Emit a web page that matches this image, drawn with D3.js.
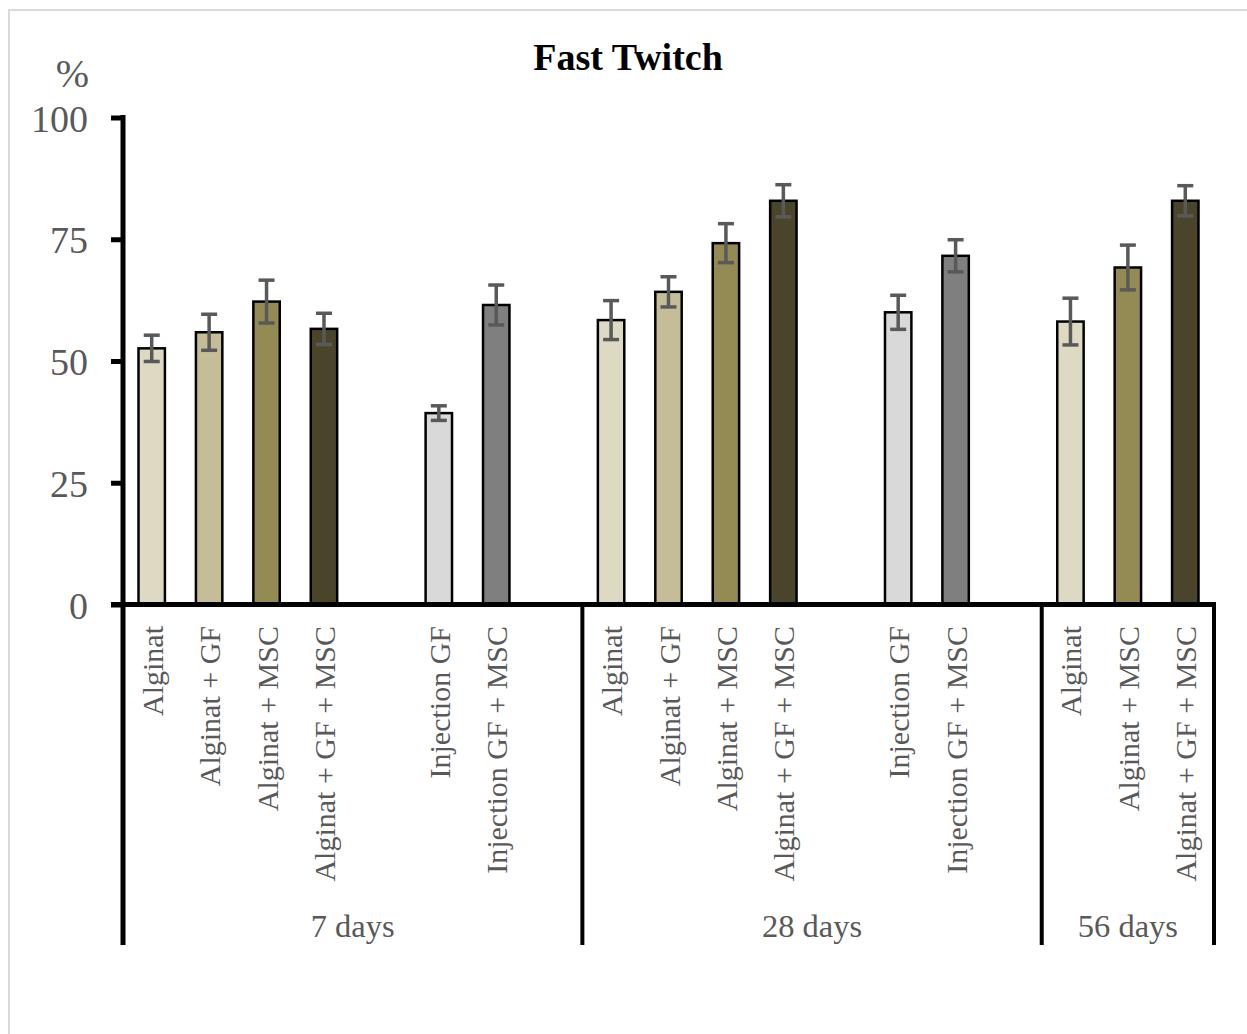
<!DOCTYPE html>
<html>
<head>
<meta charset="utf-8">
<script src="https://cdn.jsdelivr.net/npm/d3@7"></script>
<style>
  html, body { margin: 0; padding: 0; background: #fff; }
  svg { display: block; }
  text { font-family: "Liberation Serif", "Times New Roman", serif; }
</style>
</head>
<body>
<svg id="chart" width="1247" height="1034"></svg>
<script>
// ---- data ----
const groups = ["7 days", "28 days", "56 days"];
const groupSizes = [8, 8, 3];
const categories = [
  "Alginat", "Alginat + GF", "Alginat + MSC", "Alginat + GF + MSC", "", "Injection GF", "Injection GF + MSC", "",
  "Alginat", "Alginat + GF", "Alginat + MSC", "Alginat + GF + MSC", "", "Injection GF", "Injection GF + MSC", "",
  "Alginat", "Alginat + MSC", "Alginat + GF + MSC"
];
const values = [
  52.6, 55.9, 62.2, 56.6, null, 39.3, 61.5, null,
  58.4, 64.2, 74.2, 82.9, null, 60.0, 71.6, null,
  58.1, 69.2, 82.9
];
const errors = [
  2.7, 3.7, 4.4, 3.2, null, 1.5, 4.1, null,
  4.0, 3.1, 4.0, 3.3, null, 3.5, 3.3, null,
  4.8, 4.6, 3.1
];
const yTicks = [0, 25, 50, 75, 100];
const colorByCategory = {
  "Alginat": "#ddd9c3",
  "Alginat + GF": "#c4bd97",
  "Alginat + MSC": "#948a54",
  "Alginat + GF + MSC": "#4a452a",
  "Injection GF": "#d9d9d9",
  "Injection GF + MSC": "#7f7f7f"
};

// ---- layout ----
const svg = d3.select("#chart");
const left = 123, right = 1214, y0 = 604.5, y100 = 117.5, bottom = 945;

// frame
svg.append("rect").attr("x", 9).attr("y", 10).attr("width", 1260).attr("height", 1060)
  .attr("fill", "none").attr("stroke", "#d9d9d9").attr("stroke-width", 2);

const x = d3.scaleBand().domain(d3.range(categories.length)).range([left, right]).padding(0);
const y = d3.scaleLinear().domain([0, 100]).range([y0, y100]);
const barW = x.bandwidth() * 0.46;

// title
svg.append("text").attr("x", 628).attr("y", 70).attr("text-anchor", "middle")
  .attr("font-size", 38).attr("font-weight", "bold").attr("fill", "#000").text("Fast Twitch");

// % label
svg.append("text").attr("x", 89).attr("y", 86.5).attr("text-anchor", "end")
  .attr("font-size", 40).attr("fill", "#595959").text("%");

// y axis
const yAxis = d3.axisLeft(y).tickValues(yTicks).tickSize(12).tickPadding(23).tickFormat(d3.format("d"));
const ya = svg.append("g").attr("transform", `translate(${left},0)`).call(yAxis);
ya.select(".domain").remove();
ya.selectAll(".tick line").attr("stroke", "#000").attr("stroke-width", 5);
ya.selectAll(".tick text").attr("font-size", 38).attr("fill", "#595959")
  .attr("font-family", "Liberation Serif, serif").attr("dy", "0.36em");

// bars
const data = categories.map((c, i) => ({ i, c, v: values[i], e: errors[i] })).filter(d => d.v !== null);

svg.append("g").selectAll("rect").data(data).join("rect")
  .attr("x", d => x(d.i) + x.bandwidth() / 2 - barW / 2)
  .attr("y", d => y(d.v))
  .attr("width", barW)
  .attr("height", d => y(0) - y(d.v))
  .attr("fill", d => colorByCategory[d.c])
  .attr("stroke", "#000").attr("stroke-width", 2.5);

// error bars
const eg = svg.append("g").attr("stroke", "#595959").attr("stroke-width", 3.5);
data.forEach(d => {
  const cx = x(d.i) + x.bandwidth() / 2;
  eg.append("line").attr("x1", cx).attr("x2", cx).attr("y1", y(d.v + d.e)).attr("y2", y(d.v - d.e));
  eg.append("line").attr("x1", cx - 8).attr("x2", cx + 8).attr("y1", y(d.v + d.e)).attr("y2", y(d.v + d.e));
  eg.append("line").attr("x1", cx - 8).attr("x2", cx + 8).attr("y1", y(d.v - d.e)).attr("y2", y(d.v - d.e));
});

// axis lines
svg.append("line").attr("x1", left).attr("x2", left).attr("y1", y100 - 2.5).attr("y2", bottom)
  .attr("stroke", "#000").attr("stroke-width", 5);
svg.append("line").attr("x1", left - 12).attr("x2", right + 2).attr("y1", y0).attr("y2", y0)
  .attr("stroke", "#000").attr("stroke-width", 5);

// group separators & labels
let start = 0;
groups.forEach((g, gi) => {
  const end = start + groupSizes[gi];
  const xs = x(start), xe = end < categories.length ? x(end) : right;
  if (gi > 0) {
    svg.append("line").attr("x1", xs).attr("x2", xs).attr("y1", y0).attr("y2", bottom)
      .attr("stroke", "#000").attr("stroke-width", 4);
  }
  svg.append("text").attr("x", (xs + xe) / 2).attr("y", 937).attr("text-anchor", "middle")
    .attr("font-size", 32.5).attr("fill", "#595959").text(g);
  start = end;
});
svg.append("line").attr("x1", right).attr("x2", right).attr("y1", y0 - 2.5).attr("y2", bottom)
  .attr("stroke", "#000").attr("stroke-width", 4);

// category labels
svg.append("g").selectAll("text").data(categories.map((c, i) => ({ c, i })).filter(d => d.c))
  .join("text")
  .attr("transform", d => `translate(${x(d.i) + x.bandwidth() / 2 + 11},626) rotate(-90)`)
  .attr("text-anchor", "end")
  .attr("font-size", 30).attr("fill", "#595959")
  .text(d => d.c);
</script>
</body>
</html>
